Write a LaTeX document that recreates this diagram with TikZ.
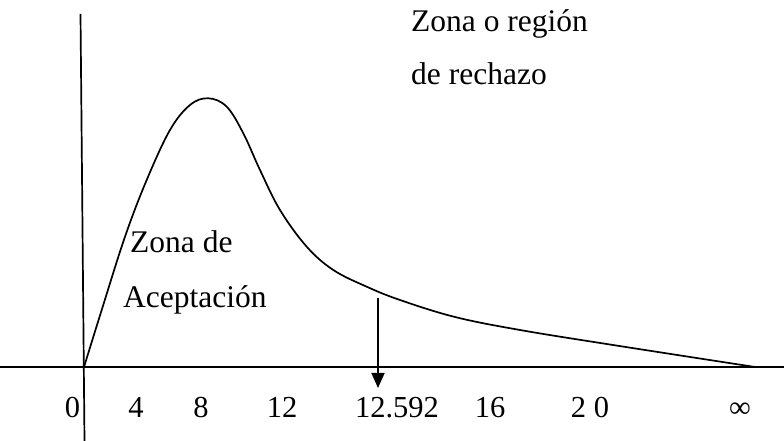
\documentclass[tikz,border=0pt]{standalone}
\usepackage{fontspec}
\setmainfont{Liberation Serif}
\usetikzlibrary{arrows.meta}
\begin{document}
\begin{tikzpicture}[x=1pt,y=1pt,
  lbl/.style={inner sep=0pt,anchor=base west,font=\fontsize{31.5}{38}\selectfont},
  tick/.style={inner sep=0pt,anchor=base,font=\fontsize{30.5}{36}\selectfont},
  ln/.style={line width=1.7pt,black}]
\useasboundingbox (0,0) rectangle (784,441);
% axes
\coordinate (axL) at (0,74);
\coordinate (axR) at (784,74);
\coordinate (vT) at (80.5,427);
\coordinate (vB) at (84.5,0);
\draw[ln] (axL) -- (axR);
\draw[ln] (vT) -- (vB);
% curve
\draw[ln] plot[smooth,tension=0.6] coordinates {(84,74) (101.7,131) (125,204.3) (146.7,261) (170,311) (190,336) (208.3,342.7) (226.7,334.3) (243.3,307.7) (260,271) (280,231) (306.7,194.3) (333.3,171) (366.7,154.3) (400,141) (455,124) (520,111) (613,96) (755,74)};
% arrow
\coordinate (aS) at (378,143);
\coordinate (aE) at (378,53);
\draw[ln,-{Triangle[length=15pt,width=13pt]}] (aS) -- (aE);
% labels
\node[lbl] (r1) at (411,409) {Zona o región};
\node[lbl] (r2) at (411,356) {de rechazo};
\node[lbl] (a1) at (130,188) {Zona de};
\node[lbl] (a2) at (123,133) {Aceptación};
% ticks
\node[tick] (t0) at (72.5,23) {0};
\node[tick] (t4) at (136,23) {4};
\node[tick] (t8) at (201,23) {8};
\node[tick] (t12) at (282,23) {12};
\node[tick] (t125) at (397,23) {12.592};
\node[tick] (t16) at (490,23) {16};
\node[tick] (t20) at (590,23) {2 0};
\node[tick] (tinf) at (740,23) {∞};
\end{tikzpicture}
\end{document}
